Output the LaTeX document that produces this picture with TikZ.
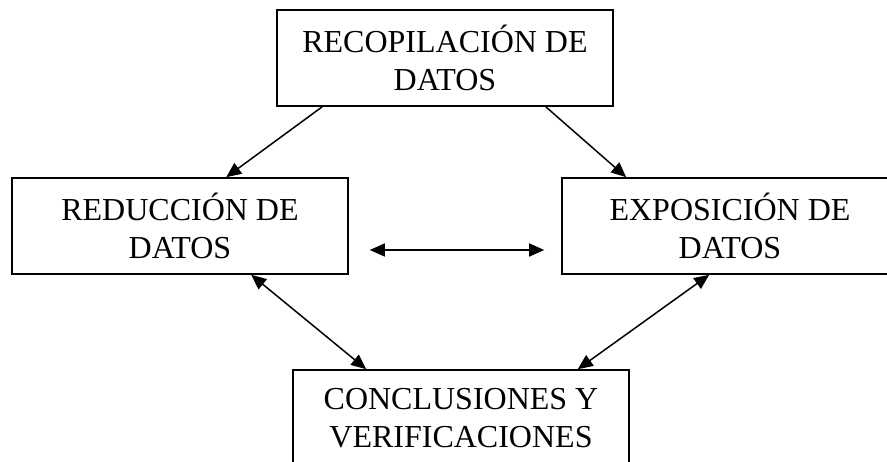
\documentclass[tikz,border=0pt]{standalone}
\usepackage{fontspec}
\setmainfont{Liberation Serif}
\usetikzlibrary{arrows.meta}
\tikzset{
  etapa/.style={rectangle,draw,line width=1.6pt,minimum width=336pt,minimum height=96pt,inner sep=0pt,align=center,font=\fontsize{32}{38}\selectfont},
  flecha/.style={line width=1.5pt,-{Triangle[length=15pt,width=13pt]}},
  dobleflecha/.style={line width=1.5pt,{Triangle[length=15pt,width=13pt]}-{Triangle[length=15pt,width=13pt]}}
}
\begin{document}
\begin{tikzpicture}[x=1pt,y=1pt]
        \useasboundingbox (0,0) rectangle (887,462);
        \clip (0,0) rectangle (887,462);
        \node at (445,404) [etapa] (recop) {RECOPILACIÓN DE\\DATOS};
        \node at (180,236) [etapa] (reduc) {REDUCCIÓN DE\\DATOS};
        \node at (730,236) [etapa] (expos) {EXPOSICIÓN DE\\DATOS};
        \node at (461,44) [etapa] (concl) {CONCLUSIONES Y\\VERIFICACIONES};
        \draw[flecha] ([xshift=46pt]recop.south west) -- ([xshift=215pt]reduc.north west);
        \draw[flecha] ([xshift=-68pt]recop.south east) -- ([xshift=65pt]expos.north west);
        \draw[dobleflecha] ([shift={(21pt,-24pt)}]reduc.east) -- ([shift={(-17pt,-24pt)}]expos.west);
        \draw[dobleflecha] ([xshift=240pt]reduc.south west) -- ([xshift=74pt]concl.north west);
        \draw[dobleflecha] ([xshift=148pt]expos.south west) -- ([xshift=-52pt]concl.north east);
\end{tikzpicture}
\end{document}
